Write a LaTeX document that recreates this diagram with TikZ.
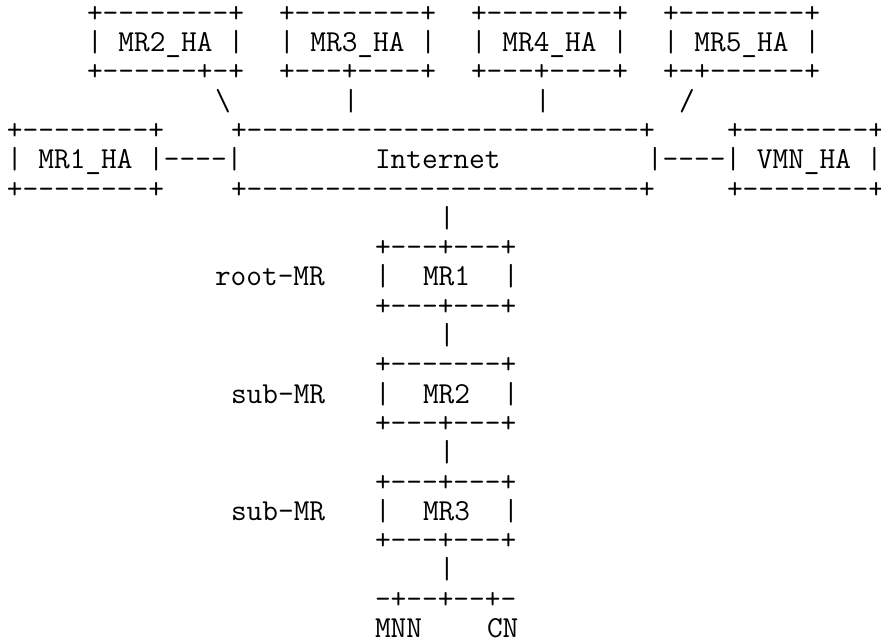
\documentclass[tikz,border=0pt]{standalone}
\begin{document}
\begin{tikzpicture}[x=12pt, y=-21.975pt,
    chars/.style={anchor=base west, inner sep=0pt, outer sep=0pt,
      font=\ttfamily\fontsize{22.857}{24}\selectfont}]
  \useasboundingbox (0,0) rectangle (55.0625,21.843);
  \begin{scope}[shift={(0.4375,-0.24)}]
    % home agents of the nested routers
    \node[chars] (mr2ha-t) at (5,1)  {+--------+};
    \node[chars] (mr3ha-t) at (17,1) {+--------+};
    \node[chars] (mr4ha-t) at (29,1) {+--------+};
    \node[chars] (mr5ha-t) at (41,1) {+--------+};
    \node[chars] (mr2ha)   at (5,2)  {| MR2\_HA |};
    \node[chars] (mr3ha)   at (17,2) {| MR3\_HA |};
    \node[chars] (mr4ha)   at (29,2) {| MR4\_HA |};
    \node[chars] (mr5ha)   at (41,2) {| MR5\_HA |};
    \node[chars] (mr2ha-b) at (5,3)  {+------+-+};
    \node[chars] (mr3ha-b) at (17,3) {+---+----+};
    \node[chars] (mr4ha-b) at (29,3) {+---+----+};
    \node[chars] (mr5ha-b) at (41,3) {+-+------+};
    \node[chars] (mr2ha-l) at (13,4) {\textbackslash};
    \node[chars] (mr3ha-l) at (21,4) {|};
    \node[chars] (mr4ha-l) at (33,4) {|};
    \node[chars] (mr5ha-l) at (42,4) {/};
    % internet row
    \node[chars] (mr1ha-t) at (0,5)  {+--------+};
    \node[chars] (inet-t)  at (14,5) {+-------------------------+};
    \node[chars] (vmnha-t) at (45,5) {+--------+};
    \node[chars] (mr1ha)   at (0,6)  {| MR1\_HA |----|};
    \node[chars] (inet)    at (23,6) {Internet};
    \node[chars] (vmnha)   at (40,6) {|----| VMN\_HA |};
    \node[chars] (mr1ha-b) at (0,7)  {+--------+};
    \node[chars] (inet-b)  at (14,7) {+-------------------------+};
    \node[chars] (vmnha-b) at (45,7) {+--------+};
    \node[chars] (inet-l)  at (27,8) {|};
    % nested mobile routers
    \node[chars] (mr1-t)   at (23,9)  {+---+---+};
    \node[chars] (root)    at (13,10) {root-MR};
    \node[chars] (mr1-w)   at (23,10) {|};
    \node[chars] (mr1)     at (26,10) {MR1};
    \node[chars] (mr1-e)   at (31,10) {|};
    \node[chars] (mr1-b)   at (23,11) {+---+---+};
    \node[chars] (mr1-l)   at (27,12) {|};
    \node[chars] (mr2-t)   at (23,13) {+-------+};
    \node[chars] (sub2)    at (14,14) {sub-MR};
    \node[chars] (mr2-w)   at (23,14) {|};
    \node[chars] (mr2)     at (26,14) {MR2};
    \node[chars] (mr2-e)   at (31,14) {|};
    \node[chars] (mr2-b)   at (23,15) {+---+---+};
    \node[chars] (mr2-l)   at (27,16) {|};
    \node[chars] (mr3-t)   at (23,17) {+---+---+};
    \node[chars] (sub3)    at (14,18) {sub-MR};
    \node[chars] (mr3-w)   at (23,18) {|};
    \node[chars] (mr3)     at (26,18) {MR3};
    \node[chars] (mr3-e)   at (31,18) {|};
    \node[chars] (mr3-b)   at (23,19) {+---+---+};
    \node[chars] (mr3-l)   at (27,20) {|};
    \node[chars] (lan)     at (23,21) {-+--+--+-};
    \node[chars] (mnn)     at (23,22) {MNN};
    \node[chars] (cn)      at (30,22) {CN};
  \end{scope}
\end{tikzpicture}
\end{document}
